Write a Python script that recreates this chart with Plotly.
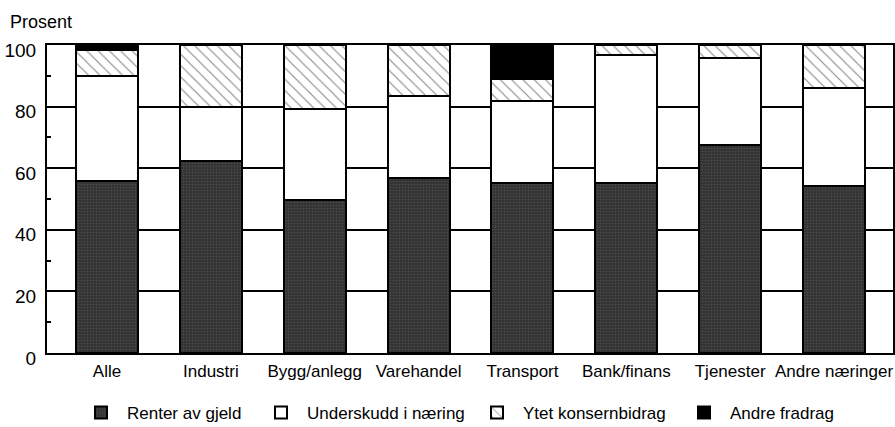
import plotly.graph_objects as go

categories = ["Alle", "Industri", "Bygg/anlegg", "Varehandel", "Transport",
              "Bank/finans", "Tjenester", "Andre næringer"]
renter = [56.0, 62.4, 49.7, 56.9, 55.1, 55.1, 67.4, 54.3]
underskudd = [34.0, 17.6, 29.4, 26.6, 26.7, 41.7, 28.3, 31.9]
konsernbidrag = [8.5, 20.0, 20.9, 16.5, 7.2, 3.2, 4.3, 13.8]
andre_fradrag = [1.5, 0.0, 0.0, 0.0, 11.0, 0.0, 0.0, 0.0]
y_ticks = [0, 20, 40, 60, 80, 100]

FONT = "Liberation Sans, Arial, Helvetica, sans-serif"
x = list(range(len(categories)))

line = dict(color="black", width=2)
fig = go.Figure()
fig.add_trace(go.Bar(
    x=x, y=renter, name="Renter av gjeld", width=0.597,
    marker=dict(color="#363636", line=line,
                pattern=dict(shape=".", fgcolor="#666666", bgcolor="#333333",
                             size=3, solidity=0.25)),
    legend="legend"))
fig.add_trace(go.Bar(
    x=x, y=underskudd, name="Underskudd i næring", width=0.597,
    marker=dict(color="white", line=line), legend="legend2"))
fig.add_trace(go.Bar(
    x=x, y=konsernbidrag, name="Ytet konsernbidrag", width=0.597,
    marker=dict(color="white", line=line,
                pattern=dict(shape="\\", fgcolor="#111111", bgcolor="white",
                             size=8, solidity=0.14)),
    legend="legend3"))
fig.add_trace(go.Bar(
    x=x, y=andre_fradrag, name="Andre fradrag", width=0.597,
    marker=dict(color="black", line=line), legend="legend4"))

W, H = 895, 427
legend_text_x = [127, 307, 523, 730]
legend_common = dict(orientation="h", xref="container", yref="container",
                     xanchor="left", yanchor="middle", y=(H - 413) / H,
                     itemwidth=42, bgcolor="rgba(0,0,0,0)",
                     font=dict(family=FONT, size=17, color="black"))

def leg(px):
    d = dict(legend_common)
    d["x"] = (px - 52) / W
    return d

fig.update_layout(
    width=W, height=H,
    barmode="stack",
    paper_bgcolor="white", plot_bgcolor="white",
    margin=dict(l=47, r=2, t=45, b=74, autoexpand=False),
    font=dict(family=FONT, size=17, color="black"),
    legend=leg(legend_text_x[0]),
    legend2=leg(legend_text_x[1]),
    legend3=leg(legend_text_x[2]),
    legend4=leg(legend_text_x[3]),
    showlegend=True,
)
fig.update_xaxes(
    range=[-0.578, 7.568], tickmode="array", tickvals=x, ticktext=categories,
    tickangle=0, automargin=False, ticklabelstandoff=2,
    showline=True, linecolor="black", linewidth=2, mirror=True,
    ticks="", showgrid=False, zeroline=False,
    tickfont=dict(family=FONT, size=17, color="black"),
)
fig.update_yaxes(
    range=[0, 100], tickmode="array", tickvals=y_ticks, automargin=False,
    showline=True, linecolor="black", linewidth=2, mirror=True,
    showgrid=True, gridcolor="black", gridwidth=1.5, zeroline=False,
    ticks="", ticklabelstandoff=5, ticklabelshift=5,
    minor=dict(tickvals=[10, 30, 50, 70, 90], ticks="inside", ticklen=4,
               tickcolor="black", tickwidth=1.5, showgrid=False),
    tickfont=dict(family=FONT, size=19, color="black"),
)
fig.add_annotation(
    text="Prosent", xref="paper", yref="paper",
    x=(8 - 47) / 846, y=(353 - 22) / 308, xanchor="left", yanchor="middle",
    showarrow=False, font=dict(family=FONT, size=18, color="black"),
)
fig.write_html("out.html", config={"displayModeBar": False},
               post_script="document.body.style.margin='0';document.body.style.overflow='hidden';")
